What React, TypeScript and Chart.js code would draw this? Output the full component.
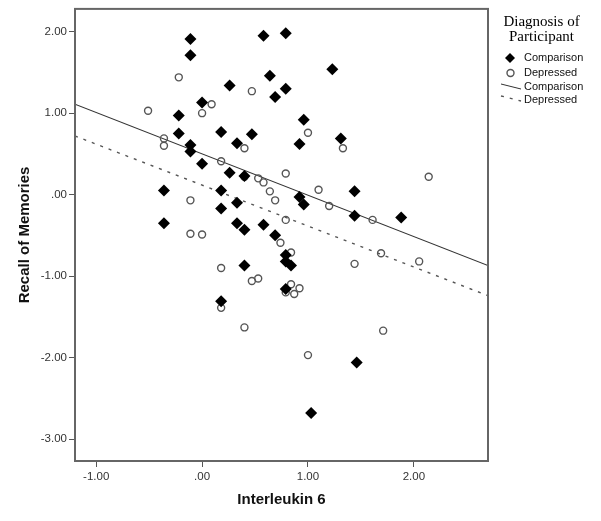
import React, { useEffect, useRef } from "react";
import { Chart, registerables } from "chart.js";

Chart.register(...registerables);

const comparisonX = [-0.11, -0.11, 0.58, 0.79, 0.64, 0.26, 0.69, 0.79, 1.23, 0.0, -0.22, -0.22, 0.18, 0.47, 0.33, -0.11, -0.11, 0.0, 0.26, 0.4, 0.96, 0.92, 1.31, -0.36, 0.18, 0.33, 0.18, -0.36, 0.33, 0.4, 0.58, 0.69, 0.92, 0.96, 1.44, 1.44, 1.88, 0.79, 0.79, 0.84, 0.4, 0.18, 0.79, 1.46, 1.03];
const comparisonY = [1.91, 1.71, 1.95, 1.98, 1.46, 1.34, 1.2, 1.3, 1.54, 1.13, 0.97, 0.75, 0.77, 0.74, 0.63, 0.61, 0.53, 0.38, 0.27, 0.23, 0.92, 0.62, 0.69, 0.05, 0.05, -0.1, -0.17, -0.35, -0.35, -0.43, -0.37, -0.5, -0.03, -0.12, 0.04, -0.26, -0.28, -0.74, -0.82, -0.87, -0.87, -1.31, -1.16, -2.06, -2.68];

const depressedX = [-0.22, 0.47, 0.09, -0.51, 0.0, 0.4, -0.36, -0.36, 1.0, 1.33, 0.18, 0.79, 2.14, 1.1, 1.2, 0.53, 0.58, 0.64, 0.69, 0.4, -0.11, -0.11, 0.0, 0.79, 1.61, 0.74, 0.84, 1.69, 1.44, 2.05, 0.18, 0.47, 0.53, 0.84, 0.92, 0.79, 0.87, 0.18, 0.4, 1.71, 1.0];
const depressedY = [1.44, 1.27, 1.11, 1.03, 1.0, 0.57, 0.69, 0.6, 0.76, 0.57, 0.41, 0.26, 0.22, 0.06, -0.14, 0.2, 0.15, 0.04, -0.07, 0.22, -0.07, -0.48, -0.49, -0.31, -0.31, -0.59, -0.71, -0.72, -0.85, -0.82, -0.9, -1.06, -1.03, -1.1, -1.15, -1.2, -1.22, -1.39, -1.63, -1.67, -1.97];

const fitX = [-1.2, 2.7];
const comparisonFitY = [1.11, -0.87];
const depressedFitY = [0.72, -1.24];

const xTicks = [-1, 0, 1, 2];
const xTickLabels = ["-1.00", ".00", "1.00", "2.00"];
const yTicks = [2, 1, 0, -1, -2, -3];
const yTickLabels = ["2.00", "1.00", ".00", "-1.00", "-2.00", "-3.00"];

const xTitle = "Interleukin 6";
const yTitle = "Recall of Memories";
const legendTitle = ["Diagnosis of", "Participant"];
const seriesNames = ["Comparison", "Depressed"];

const toPoints = (xs: number[], ys: number[]) => xs.map((x, i) => ({ x, y: ys[i] }));

const SANS = "Arial, 'Liberation Sans', sans-serif";
const SERIF = "'Times New Roman', 'Liberation Serif', serif";

function drawDiamond(ctx: CanvasRenderingContext2D, x: number, y: number, r: number) {
  ctx.beginPath();
  ctx.moveTo(x, y - r);
  ctx.lineTo(x + r, y);
  ctx.lineTo(x, y + r);
  ctx.lineTo(x - r, y);
  ctx.closePath();
  ctx.fillStyle = "#000";
  ctx.fill();
}

const framePlugin = {
  id: "frame",
  afterDatasetsDraw(chart: any) {
    const { ctx, chartArea } = chart;
    ctx.save();
    ctx.strokeStyle = "#666";
    ctx.lineWidth = 2;
    ctx.strokeRect(chartArea.left, chartArea.top, chartArea.right - chartArea.left, chartArea.bottom - chartArea.top);
    ctx.restore();
  },
};

const legendPlugin = {
  id: "customLegend",
  afterDraw(chart: any) {
    const ctx: CanvasRenderingContext2D = chart.ctx;
    ctx.save();
    ctx.fillStyle = "#000";
    ctx.font = `15px ${SERIF}`;
    ctx.textAlign = "center";
    ctx.textBaseline = "middle";
    ctx.fillText(legendTitle[0], 541.5, 22);
    ctx.fillText(legendTitle[1], 541.5, 37);

    ctx.font = `11px ${SANS}`;
    ctx.textAlign = "left";

    drawDiamond(ctx, 510, 58, 5);
    ctx.fillStyle = "#111";
    ctx.fillText(seriesNames[0], 524, 58);

    ctx.beginPath();
    ctx.arc(510.5, 73, 3.5, 0, Math.PI * 2);
    ctx.strokeStyle = "#555";
    ctx.lineWidth = 1.4;
    ctx.stroke();
    ctx.fillText(seriesNames[1], 524, 73);

    ctx.beginPath();
    ctx.moveTo(501, 84);
    ctx.lineTo(521, 89);
    ctx.strokeStyle = "#333";
    ctx.lineWidth = 1;
    ctx.stroke();
    ctx.fillText(seriesNames[0], 524, 87);

    ctx.beginPath();
    ctx.setLineDash([3, 6]);
    ctx.moveTo(501, 96);
    ctx.lineTo(521, 101);
    ctx.strokeStyle = "#555";
    ctx.lineWidth = 1.3;
    ctx.stroke();
    ctx.setLineDash([]);
    ctx.fillText(seriesNames[1], 524, 100);
    ctx.restore();
  },
};

export default function App() {
  const canvasRef = useRef<HTMLCanvasElement | null>(null);

  useEffect(() => {
    if (!canvasRef.current) return;
    const chart = new Chart(canvasRef.current, {
      type: "scatter",
      data: {
        datasets: [
          {
            label: seriesNames[0],
            data: toPoints(comparisonX, comparisonY),
            pointStyle: "rectRot",
            pointRadius: 6,
            backgroundColor: "#000",
            borderColor: "#000",
            borderWidth: 0,
          },
          {
            label: seriesNames[1],
            data: toPoints(depressedX, depressedY),
            pointStyle: "circle",
            pointRadius: 3.5,
            backgroundColor: "rgba(0,0,0,0)",
            borderColor: "#555",
            borderWidth: 1.4,
          },
          {
            type: "line",
            label: seriesNames[0] + " fit",
            data: toPoints(fitX, comparisonFitY),
            borderColor: "#333",
            borderWidth: 1.1,
            pointRadius: 0,
            showLine: true,
            fill: false,
          },
          {
            type: "line",
            label: seriesNames[1] + " fit",
            data: toPoints(fitX, depressedFitY),
            borderColor: "#555",
            borderWidth: 1.4,
            borderDash: [3, 6],
            pointRadius: 0,
            showLine: true,
            fill: false,
          },
        ] as any,
      },
      options: {
        animation: false,
        responsive: false,
        devicePixelRatio: 1,
        layout: { padding: { top: 7, right: 113, bottom: 0, left: 0 } },
        plugins: {
          legend: { display: false },
          tooltip: { enabled: false },
        },
        scales: {
          x: {
            type: "linear",
            min: -1.2,
            max: 2.7,
            afterBuildTicks: (scale: any) => {
              scale.ticks = xTicks.map((v) => ({ value: v }));
            },
            afterFit: (scale: any) => {
              scale.height = 60;
            },
            ticks: {
              callback: (v: any) => xTickLabels[xTicks.indexOf(Number(v))] ?? "",
              color: "#333",
              font: { family: SANS, size: 11.5 },
              padding: 3,
              maxRotation: 0,
            },
            grid: { drawOnChartArea: false, drawTicks: true, tickLength: 6, color: "#555" },
            border: { display: false },
            title: {
              display: true,
              text: xTitle,
              color: "#111",
              font: { family: SANS, size: 15, weight: "bold" },
              padding: { top: 0, bottom: 12 },
            },
          },
          y: {
            type: "linear",
            min: -3.27,
            max: 2.28,
            afterBuildTicks: (scale: any) => {
              scale.ticks = yTicks.map((v) => ({ value: v }));
            },
            afterFit: (scale: any) => {
              scale.width = 75;
            },
            ticks: {
              callback: (v: any) => yTickLabels[yTicks.indexOf(Number(v))] ?? "",
              color: "#333",
              font: { family: SANS, size: 11.5 },
              padding: 2,
            },
            grid: { drawOnChartArea: false, drawTicks: true, tickLength: 6, color: "#555" },
            border: { display: false },
            title: {
              display: true,
              text: yTitle,
              color: "#111",
              font: { family: SANS, size: 15, weight: "bold" },
              padding: { top: 16, bottom: 0 },
            },
          },
        },
      } as any,
      plugins: [framePlugin, legendPlugin],
    });
    return () => chart.destroy();
  }, []);

  return (
    <div style={{ position: "fixed", left: 0, top: 0, width: 601, height: 521, background: "#fff" }}>
      <canvas ref={canvasRef} width={601} height={521} style={{ display: "block" }} />
    </div>
  );
}
